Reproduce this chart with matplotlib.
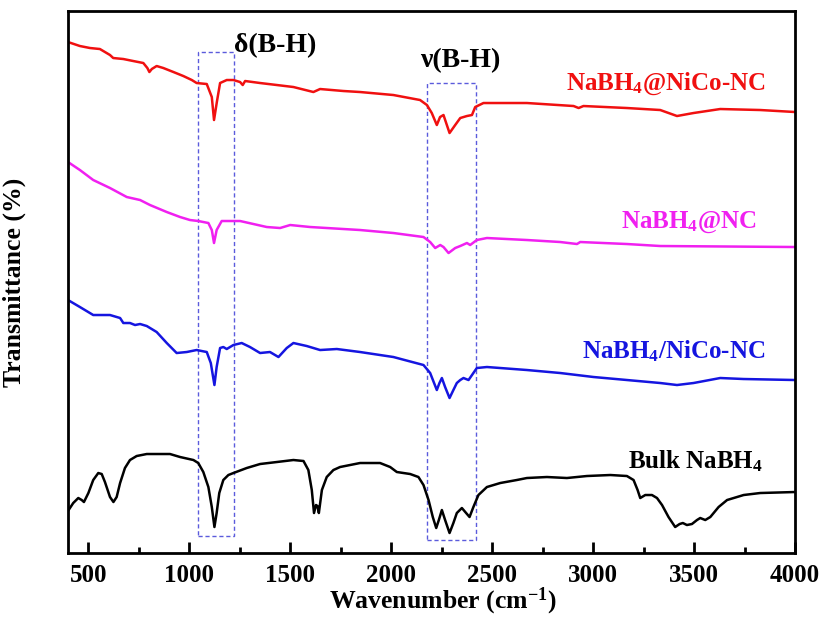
import matplotlib
matplotlib.use("Agg")
import matplotlib.pyplot as plt
from matplotlib.patches import Rectangle
from matplotlib.ticker import MultipleLocator, NullLocator

# fonts: Times-like bold everywhere
plt.rcParams['font.family'] = 'Liberation Serif'
plt.rcParams['font.weight'] = 'bold'
plt.rcParams['axes.labelweight'] = 'bold'
plt.rcParams['mathtext.fontset'] = 'custom'
plt.rcParams['mathtext.rm'] = 'Liberation Serif:bold'
plt.rcParams['mathtext.it'] = 'Liberation Serif:bold'
plt.rcParams['mathtext.bf'] = 'Liberation Serif:bold'

# spectra (wavenumber, offset transmittance in arbitrary units)
red_w = [400, 459, 509, 558, 608, 624, 674, 723, 773, 793, 803, 815, 839, 872, 922, 971,
         1013, 1037, 1087, 1112, 1123, 1137, 1153, 1186, 1219, 1252, 1265, 1277, 1351, 1434,
         1516, 1615, 1648, 1764, 1846, 2011, 2143, 2177, 2201, 2226, 2242, 2259, 2289, 2317,
         2342, 2375, 2400, 2416, 2457, 2672, 2903, 2928, 2952, 3167, 3332, 3415, 3497, 3629,
         3827, 4000]
red_t = [511, 507, 505, 504, 498, 495, 494, 492, 490, 485, 481, 484, 487, 485, 481, 477,
         473, 470, 469, 456, 433, 451, 470, 473, 473, 471, 468, 472, 470, 468,
         466, 461, 464, 462, 461, 458, 453, 448, 440, 428, 436, 438, 420, 428,
         435, 437, 438, 446, 450, 450, 447, 445, 447, 445, 443, 437, 440, 444,
         443, 441]

mag_w = [400, 459, 525, 608, 691, 757, 806, 889, 955, 1004, 1045, 1095, 1112, 1123, 1136,
         1161, 1252, 1318, 1384, 1450, 1500, 1599, 1846, 2011, 2160, 2193, 2218, 2243, 2259,
         2284, 2317, 2342, 2375, 2391, 2424, 2474, 2672, 2837, 2920, 2936, 3167, 3332, 4000]
mag_t = [391, 383, 373, 365, 356, 353, 348, 341, 336, 333, 332, 330, 323, 310, 323,
         332, 332, 329, 326, 325, 328, 326, 323, 320, 316, 311, 305, 308, 306,
         300, 305, 307, 310, 308, 313, 315, 313, 311, 309, 311, 309, 307, 306]

blue_w = [400, 459, 525, 608, 658, 674, 707, 732, 757, 790, 839, 889, 938, 988, 1037,
          1087, 1107, 1125, 1136, 1153, 1169, 1186, 1219, 1260, 1301, 1351, 1400, 1442, 1483,
          1516, 1582, 1648, 1731, 1846, 2011, 2160, 2193, 2226, 2239, 2251, 2267, 2289, 2308,
          2325, 2342, 2358, 2383, 2407, 2424, 2474, 2672, 2837, 3002, 3167, 3332, 3415, 3497,
          3629, 3745, 4000]
blue_t = [253, 246, 238, 238, 235, 230, 230, 228, 229, 227, 221, 210, 200, 201, 203,
          201, 190, 168, 186, 205, 206, 204, 208, 210, 206, 200, 201, 196, 205,
          210, 207, 203, 204, 201, 196, 188, 180, 163, 170, 175, 166, 155, 163,
          170, 173, 175, 173, 180, 185, 186, 183, 180, 176, 173, 170, 168, 170,
          175, 174, 173]

bulk_w = [400, 426, 451, 468, 479, 501, 525, 550, 567, 583, 608, 625, 641, 658, 682, 707,
          740, 790, 905, 955, 1021, 1045, 1070, 1095, 1112, 1125, 1136, 1149, 1169, 1194,
          1219, 1285, 1351, 1434, 1516, 1566, 1590, 1607, 1618, 1628, 1635, 1642, 1657, 1681,
          1714, 1747, 1846, 1945, 1995, 2028, 2094, 2135, 2160, 2185, 2206, 2223, 2236, 2251,
          2267, 2289, 2308, 2325, 2350, 2371, 2388, 2407, 2432, 2474, 2540, 2622, 2672, 2771,
          2870, 2969, 3085, 3167, 3200, 3220, 3233, 3258, 3291, 3316, 3341, 3373, 3406, 3428,
          3444, 3464, 3489, 3514, 3530, 3555, 3580, 3621, 3663, 3745, 3827, 4000]
bulk_t = [42, 50, 55, 53, 51, 60, 73, 80, 79, 71, 56, 51, 56, 70, 85, 93,
          97, 99, 99, 96, 93, 90, 81, 66, 46, 26, 40, 60, 73, 78,
          80, 85, 89, 91, 93, 92, 83, 63, 40, 48, 47, 40, 63, 76,
          83, 86, 90, 90, 86, 81, 79, 76, 68, 53, 36, 25, 33, 43,
          33, 20, 30, 40, 45, 40, 36, 46, 58, 66, 70, 73, 75, 76,
          75, 77, 78, 77, 73, 63, 55, 58, 58, 55, 48, 36, 26, 29,
          30, 28, 29, 33, 35, 33, 36, 46, 53, 58, 60, 61]

fig = plt.figure(figsize=(8.24, 6.19), dpi=100)
ax = fig.add_axes([0.0825, 0.1066, 0.8825, 0.8756])

lw = 1.8
ax.plot(red_w, red_t, color='#f01010', lw=lw)
ax.plot(mag_w, mag_t, color='#f020f0', lw=lw)
ax.plot(blue_w, blue_t, color='#1515e0', lw=lw)
ax.plot(bulk_w, bulk_t, color='black', lw=lw)

# dashed boxes for B-H bands
box_col = '#5b5bdc'
ax.add_patch(Rectangle((1044, 17), 1222 - 1044, 501 - 17, fill=False, ec=box_col, lw=1,
                       ls=(0, (3, 2))))
ax.add_patch(Rectangle((2178, 13), 2421 - 2178, 470 - 13, fill=False, ec=box_col, lw=1,
                       ls=(0, (3, 2))))

ax.text(1425, 507, 'δ(B-H)', ha='center', va='center', fontsize=20)
ax.text(2342, 492, 'ν(B-H)', ha='center', va='center', fontsize=20)

ax.text(3852, 463, r'NaBH$_4$@NiCo-NC', color='#f01010', ha='right', va='baseline', fontsize=18)
ax.text(3810, 325, r'NaBH$_4$@NC', color='#f020f0', ha='right', va='baseline', fontsize=18)
ax.text(3852, 195, r'NaBH$_4$/NiCo-NC', color='#1515e0', ha='right', va='baseline', fontsize=18)
ax.text(3840, 85, r'Bulk NaBH$_4$', color='black', ha='right', va='baseline', fontsize=18)

ax.set_xlim(400, 4000)
ax.set_ylim(0, 542)
ax.xaxis.set_major_locator(MultipleLocator(500))
ax.xaxis.set_minor_locator(MultipleLocator(250))
ax.yaxis.set_major_locator(NullLocator())
ax.tick_params(axis='x', which='major', direction='in', length=8, width=2, labelsize=18, pad=8)
ax.tick_params(axis='x', which='minor', direction='in', length=4, width=2)
for s in ax.spines.values():
    s.set_linewidth(2)

ax.set_xlabel(r'Wavenumber (cm$^{-1}$)', fontsize=18.5, fontweight='bold')
ax.xaxis.set_label_coords(0.516, -0.06)
ax.set_ylabel('Transmittance (%)', fontsize=18.5, fontweight='bold')
ax.yaxis.set_label_coords(-0.058, 0.5)

fig.savefig('out.png', dpi=100)
